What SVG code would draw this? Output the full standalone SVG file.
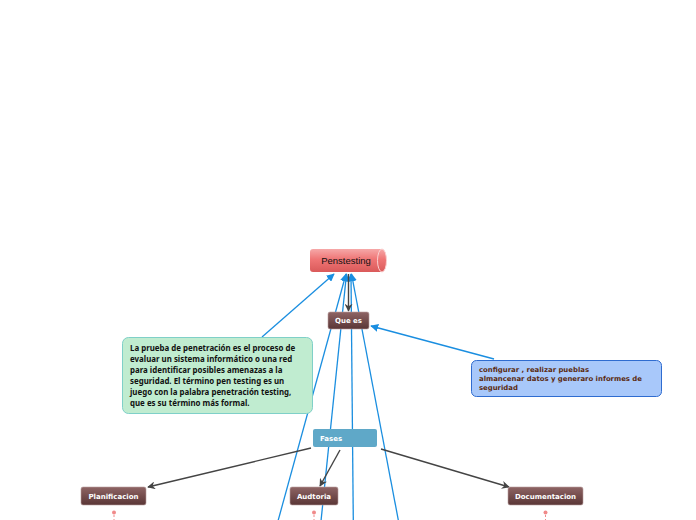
<svg xmlns="http://www.w3.org/2000/svg" width="696" height="520" viewBox="0 0 696 520">
<defs>
<linearGradient id="gRed" x1="0" y1="0" x2="0" y2="1">
<stop offset="0" stop-color="#f6a8a8"/><stop offset="0.45" stop-color="#ef7575"/><stop offset="1" stop-color="#da5a5a"/>
</linearGradient>
<linearGradient id="gBrown" x1="0" y1="0" x2="0" y2="1">
<stop offset="0" stop-color="#8e6464"/><stop offset="1" stop-color="#5a3636"/>
</linearGradient>
<marker id="aBlue" viewBox="0 0 10 10" refX="9" refY="5" markerWidth="8" markerHeight="8" markerUnits="userSpaceOnUse" orient="auto">
<path d="M0,0 L10,5 L0,10 z" fill="#1a8ee0"/>
</marker>
<marker id="aGray" viewBox="0 0 10 10" refX="9" refY="5" markerWidth="8" markerHeight="8" markerUnits="userSpaceOnUse" orient="auto">
<path d="M0,0 L10,5 L0,10 L3,5 z" fill="#444"/>
</marker>
<style>
.blue{stroke:#1a8ee0;stroke-width:1.3;fill:none}
.gray{stroke:#444;stroke-width:1.4;fill:none}
.brown{fill:url(#gBrown);stroke:#b8a0a0;stroke-width:0.6}
.bt{font-family:"DejaVu Sans",Verdana,sans-serif;font-weight:bold;font-size:7px;fill:#fff;text-anchor:middle}
.gt{font-family:"Noto Sans","Open Sans",sans-serif;font-weight:bold;font-size:7.9px;fill:#111}
.ct{font-family:"DejaVu Sans",Verdana,sans-serif;font-weight:bold;font-size:6.9px;fill:#5a2a10}
.pin{fill:#f08a8a}
.pinl{stroke:#f08a8a;stroke-width:1;stroke-dasharray:2,2}
</style>
</defs>
<rect width="696" height="520" fill="#fff"/>
<g id="connectors">
<line class="blue" x1="278" y1="521" x2="346" y2="274" marker-end="url(#aBlue)"/>
<line class="blue" x1="321" y1="521" x2="346.5" y2="274" marker-end="url(#aBlue)"/>
<line class="blue" x1="353.3" y1="521" x2="351" y2="274" marker-end="url(#aBlue)"/>
<line class="blue" x1="398.5" y1="521" x2="351.5" y2="274" marker-end="url(#aBlue)"/>
<line class="blue" x1="262" y1="337" x2="334" y2="274" marker-end="url(#aBlue)"/>
<line class="blue" x1="494" y1="359" x2="371" y2="326" marker-end="url(#aBlue)"/>
<line class="gray" x1="348.5" y1="274" x2="348.5" y2="311" marker-end="url(#aGray)"/>
<line class="gray" x1="311" y1="448" x2="148" y2="487" marker-end="url(#aGray)"/>
<line class="gray" x1="340" y1="450" x2="320" y2="486" marker-end="url(#aGray)"/>
<line class="gray" x1="381" y1="449" x2="509" y2="487" marker-end="url(#aGray)"/>
</g>
<g id="penstesting">
<path d="M313,249 H382 V272 H313 Q310,272 310,269 V252 Q310,249 313,249 z" fill="url(#gRed)"/>
<ellipse cx="382" cy="260.5" rx="4.5" ry="11.5" fill="url(#gRed)" stroke="#fbd0d0" stroke-width="1"/>
<text x="346" y="264" font-family="'Liberation Sans',Arial,sans-serif" font-size="9.5" fill="#111" text-anchor="middle">Penstesting</text>
</g>
<g id="que-es">
<rect class="brown" x="328" y="312" width="41" height="17" rx="2"/>
<text class="bt" x="348.5" y="323">Que es</text>
</g>
<g id="definicion">
<rect x="122.5" y="337.5" width="190" height="76" rx="6" fill="#c0ecd0" stroke="#7fd0c8" stroke-width="1"/>
<text class="gt"><tspan x="130" y="350.5">La prueba de penetración es el proceso de</tspan><tspan x="130" y="361.5">evaluar un sistema informático o una red</tspan><tspan x="130" y="372.5">para identificar posibles amenazas a la</tspan><tspan x="130" y="383.5">seguridad. El término pen testing es un</tspan><tspan x="130" y="394.5">juego con la palabra penetración testing,</tspan><tspan x="130" y="405.5">que es su término más formal.</tspan></text>
</g>
<g id="configurar">
<rect x="471.5" y="360.5" width="190" height="36" rx="5" fill="#a8c8fa" stroke="#2f6cd0" stroke-width="1"/>
<text class="ct"><tspan x="479" y="372">configurar , realizar pueblas</tspan><tspan x="479" y="381">almancenar datos y generaro informes de</tspan><tspan x="479" y="390">seguridad</tspan></text>
</g>
<g id="fases">
<rect x="313" y="429" width="64" height="18" rx="2" fill="#5fa8c8"/>
<text x="320" y="441" font-family="'DejaVu Sans',Verdana,sans-serif" font-weight="bold" font-size="7px" fill="#fff">Fases</text>
</g>
<g id="planificacion">
<rect class="brown" x="81" y="487" width="65" height="18" rx="2"/>
<text class="bt" x="113.5" y="498.5">Planificacion</text>
<circle class="pin" cx="114" cy="512.5" r="2"/>
<line class="pinl" x1="114" y1="515" x2="114" y2="520"/>
</g>
<g id="auditoria">
<rect class="brown" x="290" y="487" width="48" height="18" rx="2"/>
<text class="bt" x="314" y="498.5">Audtoria</text>
<circle class="pin" cx="314" cy="512.5" r="2"/>
<line class="pinl" x1="314" y1="515" x2="314" y2="520"/>
</g>
<g id="documentacion">
<rect class="brown" x="508" y="487" width="75" height="18" rx="2"/>
<text class="bt" x="545.5" y="498.5">Documentacion</text>
<circle class="pin" cx="545.5" cy="512.5" r="2"/>
<line class="pinl" x1="545.5" y1="515" x2="545.5" y2="520"/>
</g>
</svg>
